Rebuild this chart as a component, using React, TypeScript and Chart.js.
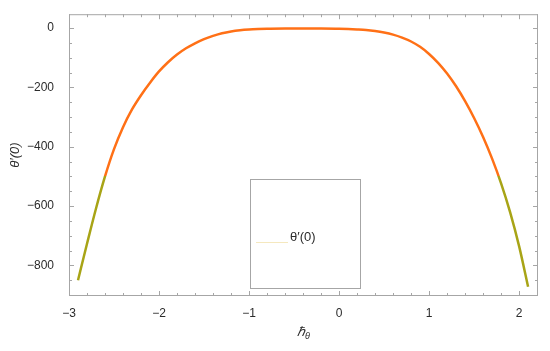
import React, { useEffect, useRef } from "react";
import { Chart, registerables } from "chart.js";
Chart.register(...registerables);

const hValues = [-2.9, -2.8, -2.7, -2.6, -2.5, -2.4, -2.3, -2.2, -2.1, -2.0, -1.9, -1.8, -1.7, -1.6, -1.5, -1.4, -1.3, -1.2, -1.1, -1.0, -0.9, -0.8, -0.6, -0.4, -0.2, 0.0, 0.1, 0.2, 0.3, 0.4, 0.5, 0.6, 0.7, 0.8, 0.9, 1.0, 1.1, 1.2, 1.3, 1.4, 1.5, 1.6, 1.7, 1.8, 1.9, 2.0, 2.1];
const thetaPrime = [-850, -727, -608, -500, -408, -334, -274, -226, -184, -146, -115, -89, -68, -51, -37, -26, -17, -11, -7, -4.5, -3, -2, -1.2, -1, -1.2, -2, -3, -4.5, -6.5, -10, -15, -22, -32, -45, -63, -87, -117, -153, -196, -246, -303, -367, -440, -523, -620, -735, -872];
const xTickValues = [-3, -2, -1, 0, 1, 2];
const yTickValues = [-800, -600, -400, -200, 0];
const xRange = [-3, 2.21];
const yRange = [-903, 47];
const colorThreshold = -500;
const legendLabel = "θ′(0)";
const yTitle = "θ′(0)";
const xTitleMain = "ℏ";
const xTitleSub = "θ";

const ORANGE = "rgb(255,112,22)";
const OLIVE = "rgb(168,164,22)";
const FRAME = "#a6a6a6";
const TEXT = "#2b2b2b";
const FONT = "'Liberation Sans', Arial, sans-serif";

const fmt = (v: number) => String(v).replace("-", "\u2212");

const framePlugin = {
  id: "framePlugin",
  afterDraw(chart: any) {
    const { ctx, chartArea: a, scales } = chart;
    const xs = scales.x, ys = scales.y;
    ctx.save();
    ctx.strokeStyle = FRAME;
    ctx.lineWidth = 1;
    ctx.strokeRect(a.left + 0.5, a.top + 0.5, a.right - a.left - 1, a.bottom - a.top - 1);
    const tick = (x1: number, y1: number, x2: number, y2: number) => {
      ctx.beginPath();
      ctx.moveTo(x1, y1);
      ctx.lineTo(x2, y2);
      ctx.stroke();
    };
    for (let i = -15; i <= 11; i++) {
      const v = i / 5;
      if (v < xRange[0] || v > xRange[1]) continue;
      const major = i % 5 === 0;
      const len = major ? 5 : 3;
      const px = Math.round(xs.getPixelForValue(v)) + 0.5;
      tick(px, a.bottom, px, a.bottom - len);
      tick(px, a.top, px, a.top + len);
    }
    for (let v = -900; v <= 0; v += 50) {
      const major = v % 200 === 0;
      const len = major ? 5 : 3;
      const py = Math.round(ys.getPixelForValue(v)) + 0.5;
      tick(a.left, py, a.left + len, py);
      tick(a.right, py, a.right - len, py);
    }
    ctx.fillStyle = TEXT;
    ctx.textBaseline = "middle";
    ctx.textAlign = "center";
    ctx.save();
    ctx.translate(15, (a.top + a.bottom) / 2);
    ctx.rotate(-Math.PI / 2);
    ctx.font = `italic 13px ${FONT}`;
    ctx.fillText(yTitle, 0, 0);
    ctx.restore();
    const cx = (a.left + a.right) / 2;
    ctx.font = `italic 13px ${FONT}`;
    const w1 = ctx.measureText(xTitleMain).width;
    ctx.font = `italic 9px ${FONT}`;
    const w2 = ctx.measureText(xTitleSub).width;
    const start = cx - (w1 + w2) / 2;
    ctx.textAlign = "left";
    ctx.font = `italic 13px ${FONT}`;
    ctx.fillText(xTitleMain, start, 332);
    ctx.font = `italic 9px ${FONT}`;
    ctx.fillText(xTitleSub, start + w1, 336);
    // legend
    ctx.strokeStyle = FRAME;
    ctx.strokeRect(250.5, 179.5, 110, 109);
    ctx.strokeStyle = "rgb(245,232,190)";
    ctx.lineWidth = 1;
    tick(256, 242.5, 288, 242.5);
    ctx.fillStyle = TEXT;
    ctx.font = `13px ${FONT}`;
    ctx.textBaseline = "middle";
    ctx.fillText(legendLabel, 290, 237);
    ctx.restore();
  },
};

export default function App() {
  const ref = useRef<HTMLCanvasElement | null>(null);
  useEffect(() => {
    document.body.style.margin = "0";
    const canvas = ref.current!;
    const chart = new Chart(canvas, {
      type: "line",
      data: {
        datasets: [
          {
            label: legendLabel,
            data: hValues.map((x, i) => ({ x, y: thetaPrime[i] })),
            borderWidth: 2.5,
            pointRadius: 0,
            cubicInterpolationMode: "monotone",
            borderColor: (c: any) => {
              const ch = c.chart;
              const area = ch.chartArea;
              if (!area) return ORANGE;
              const yp = ch.scales.y.getPixelForValue(colorThreshold);
              const g = ch.ctx.createLinearGradient(0, area.top, 0, area.bottom);
              const s = Math.min(1, Math.max(0, (yp - area.top) / (area.bottom - area.top)));
              g.addColorStop(0, ORANGE);
              g.addColorStop(s, ORANGE);
              g.addColorStop(s, OLIVE);
              g.addColorStop(1, OLIVE);
              return g;
            },
          } as any,
        ],
      },
      options: {
        animation: false,
        responsive: false,
        layout: { padding: { left: 0, right: 12, top: 11, bottom: 0 } },
        plugins: { legend: { display: false }, tooltip: { enabled: false } },
        scales: {
          x: {
            type: "linear",
            min: xRange[0],
            max: xRange[1],
            grid: { display: false },
            border: { display: false },
            afterBuildTicks: (s: any) => {
              s.ticks = xTickValues.map((v) => ({ value: v }));
            },
            afterFit: (s: any) => {
              s.height = 55;
            },
            ticks: {
              padding: 2,
              maxRotation: 0,
              autoSkip: false,
              color: TEXT,
              font: { size: 12, family: FONT },
              callback: (v: any) => fmt(v),
            },
          },
          y: {
            type: "linear",
            min: yRange[0],
            max: yRange[1],
            grid: { display: false },
            border: { display: false },
            afterBuildTicks: (s: any) => {
              s.ticks = yTickValues.map((v) => ({ value: v }));
            },
            afterFit: (s: any) => {
              s.width = 69;
            },
            ticks: {
              padding: 7,
              autoSkip: false,
              color: TEXT,
              font: { size: 12, family: FONT },
              callback: (v: any) => fmt(v),
            },
          },
        },
      },
      plugins: [framePlugin],
    });
    return () => chart.destroy();
  }, []);
  return <canvas ref={ref} width={550} height={351} style={{ display: "block" }} />;
}
